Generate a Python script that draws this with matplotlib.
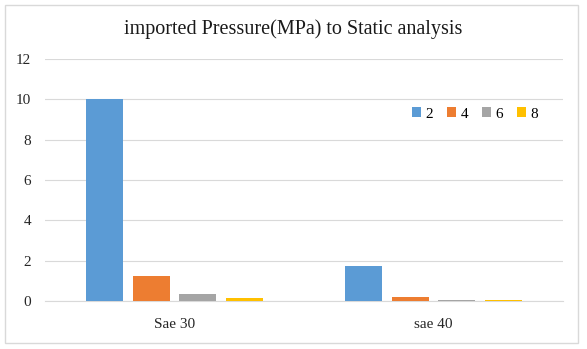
import matplotlib.pyplot as plt
import numpy as np
from matplotlib.patches import Rectangle

categories = ['Sae 30', 'sae 40']
series_names = ['2', '4', '6', '8']
values = {
    '2': [10.0, 1.75],
    '4': [1.25, 0.2],
    '6': [0.35, 0.05],
    '8': [0.15, 0.05],
}
colors = ['#5B9BD5', '#ED7D31', '#A5A5A5', '#FFC000']

plt.rcParams['font.family'] = 'Liberation Serif'

fig = plt.figure(figsize=(5.87, 3.49), dpi=100)
fig.patches.append(Rectangle((0.009, 0.017), 0.976, 0.968, transform=fig.transFigure,
                             fill=False, edgecolor='#D9D9D9', linewidth=1))
ax = fig.add_axes([45 / 587, 48 / 349, 518 / 587, 242 / 349])

x = np.arange(len(categories))
width = 0.143
step = 0.181
for i, name in enumerate(series_names):
    ax.bar(x + (i - 1.5) * step, values[name], width, color=colors[i], label=name, zorder=3)

ax.set_xlim(-0.5, 1.5)
ax.set_ylim(0, 12)
ax.set_yticks(range(0, 13, 2))
ax.set_xticks(x)
ax.set_xticklabels(categories)
ax.yaxis.grid(True, color='#D9D9D9', linewidth=0.8, zorder=0)
for s in ['top', 'right', 'left']:
    ax.spines[s].set_visible(False)
ax.spines['bottom'].set_color('#D9D9D9')
ax.tick_params(axis='both', length=0, labelsize=11, colors='#262626')
ax.tick_params(axis='x', pad=12)
ax.tick_params(axis='y', pad=10)

fig.text(0.5, 1 - 29 / 349, 'imported Pressure(MPa) to Static analysis', ha='center', va='center',
         fontsize=14.5, color='#1a1a1a')
ax.legend(loc='center', bbox_to_anchor=(475 / 587, 1 - 114 / 349), bbox_transform=fig.transFigure,
          ncol=4, frameon=False, fontsize=11, handlelength=0.6, handleheight=0.6,
          handletextpad=0.3, columnspacing=0.9)

fig.savefig('out.png', dpi=100)
